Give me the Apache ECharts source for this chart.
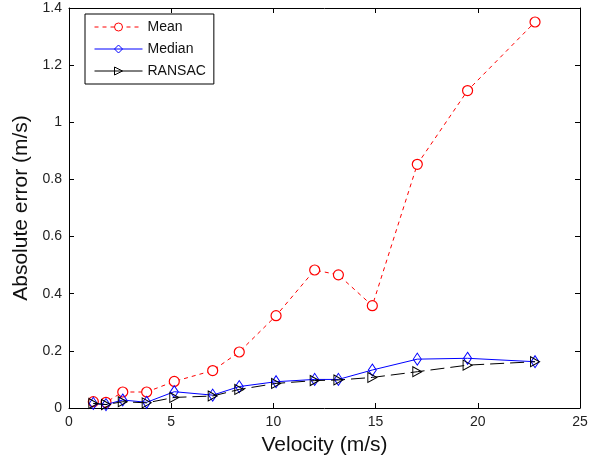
<!DOCTYPE html>
<html>
<head>
<meta charset="utf-8">
<title>Absolute error vs velocity</title>
<script src="https://cdn.jsdelivr.net/npm/echarts@6/dist/echarts.min.js"></script>
<style>
  html, body { margin: 0; padding: 0; background: #fff; }
  #chart { width: 606px; height: 461px; }
</style>
</head>
<body>
<div id="chart"></div>
<script>
// Test velocities (m/s), shared by all three estimators
const velocity = [1.19, 1.81, 2.63, 3.80, 5.15, 7.03, 8.33, 10.13, 12.02, 13.18, 14.84, 17.04, 19.50, 22.80];

// Absolute error (m/s) of each estimator
const meanError   = [0.022, 0.020, 0.056, 0.056, 0.093, 0.131, 0.196, 0.323, 0.483, 0.466, 0.358, 0.853, 1.111, 1.351];
const medianError = [0.016, 0.012, 0.028, 0.020, 0.057, 0.045, 0.075, 0.092, 0.100, 0.100, 0.133, 0.171, 0.174, 0.162];
const ransacError = [0.016, 0.012, 0.022, 0.018, 0.037, 0.042, 0.065, 0.086, 0.096, 0.098, 0.107, 0.127, 0.150, 0.162];

// Axis ticks
const xTicks = { min: 0, max: 25, interval: 5 };
const yTicks = { min: 0, max: 1.4, interval: 0.2 };

const FONT = '"Liberation Sans", Arial, Helvetica, sans-serif';
const pairs = (xs, ys) => xs.map((x, i) => [x, ys[i]]);

const frameAxis = {
  axisLine: { show: true, onZero: false, lineStyle: { color: '#000', width: 1 } },
  axisTick: { show: true, inside: true, length: 5, lineStyle: { color: '#000' } },
  splitLine: { show: false }
};

const chart = echarts.init(document.getElementById('chart'), null, { renderer: 'canvas' });

chart.setOption({
  animation: false,
  backgroundColor: '#fff',
  textStyle: { fontFamily: FONT },
  grid: { left: 69, right: 26, top: 8, bottom: 53, containLabel: false },
  legend: {
    left: 85, top: 14, orient: 'vertical',
    padding: [6, 8, 6, 9],
    itemWidth: 48, itemHeight: 10, itemGap: 8,
    borderColor: '#000', borderWidth: 1, backgroundColor: '#fff',
    lineStyle: { width: 1 },
    itemStyle: { borderWidth: 1 },
    textStyle: { fontFamily: FONT, fontSize: 14, color: '#111' },
    data: [
      { name: 'Mean', itemStyle: { borderWidth: 1, color: '#fff' } },
      { name: 'Median', itemStyle: { borderWidth: 1, color: 'rgba(0,0,0,0)' } },
      { name: 'RANSAC', itemStyle: { borderWidth: 1, color: 'rgba(0,0,0,0)' }, lineStyle: { type: 'solid', width: 1 } }
    ]
  },
  xAxis: [
    Object.assign({
      type: 'value', position: 'bottom',
      min: xTicks.min, max: xTicks.max, interval: xTicks.interval,
      name: 'Velocity (m/s)', nameLocation: 'middle', nameGap: 27,
      nameTextStyle: { fontFamily: FONT, fontSize: 21, color: '#111' },
      axisLabel: { fontFamily: FONT, fontSize: 14, color: '#222', margin: 7 }
    }, frameAxis),
    Object.assign({
      type: 'value', position: 'top',
      min: xTicks.min, max: xTicks.max, interval: xTicks.interval,
      axisLabel: { show: false }
    }, frameAxis)
  ],
  yAxis: [
    Object.assign({
      type: 'value', position: 'left',
      min: yTicks.min, max: yTicks.max, interval: yTicks.interval,
      name: 'Absolute error (m/s)', nameLocation: 'middle', nameGap: 26,
      nameTextStyle: { fontFamily: FONT, fontSize: 21, color: '#111' },
      axisLabel: { fontFamily: FONT, fontSize: 14, color: '#222', margin: 7 }
    }, frameAxis),
    Object.assign({
      type: 'value', position: 'right',
      min: yTicks.min, max: yTicks.max, interval: yTicks.interval,
      axisLabel: { show: false }
    }, frameAxis)
  ],
  series: [
    {
      name: 'Mean', type: 'line', data: pairs(velocity, meanError),
      symbol: 'circle', symbolSize: 10,
      lineStyle: { color: '#ff0000', width: 1, type: [4, 4] },
      itemStyle: { color: '#ffffff', borderColor: '#ff0000', borderWidth: 1.2 },
      z: 2
    },
    {
      name: 'Median', type: 'line', data: pairs(velocity, medianError),
      symbol: 'diamond', symbolSize: [8, 12],
      lineStyle: { color: '#0000ff', width: 1, type: 'solid' },
      itemStyle: { color: 'rgba(0,0,0,0)', borderColor: '#0000ff', borderWidth: 1 },
      z: 3
    },
    {
      name: 'RANSAC', type: 'line', data: pairs(velocity, ransacError),
      symbol: 'path://M0,0L10,5L0,10Z', symbolSize: [9, 10],
      lineStyle: { color: '#000000', width: 1, type: [14, 6] },
      itemStyle: { color: 'rgba(0,0,0,0)', borderColor: '#000000', borderWidth: 1 },
      z: 4
    }
  ]
});
</script>
</body>
</html>
